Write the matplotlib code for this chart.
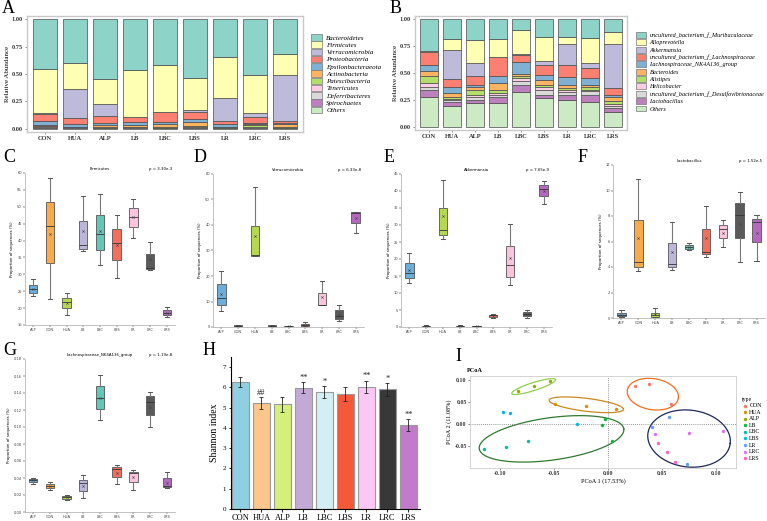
import matplotlib
matplotlib.use('Agg')
import matplotlib.pyplot as plt
import numpy as np

# ---------------- data ----------------
groups = ['CON', 'HUA', 'ALP', 'LB', 'LBC', 'LBS', 'LR', 'LRC', 'LRS']

# Panel A (phylum level, relative abundance)
phyla = ['Bacteroidetes', 'Firmicutes', 'Verrucomicrobia', 'Proteobacteria',
         'Epsilonbacteraeota', 'Actinobacteria', 'Patescibacteria', 'Tenericutes',
         'Deferribacteres', 'Spirochaetes', 'Others']
bacteroidetes = [.455, .40, .545, .465, .415, .54, .345, .51, .32]
firmicutes = [.405, .24, .23, .425, .43, .29, .375, .35, .19]
verrucomicrobia = [.005, .265, .105, .005, .005, .02, .205, .035, .42]
proteobacteria = [.06, .055, .065, .045, .085, .06, .035, .05, .015]
epsilonbacteraeota = [.045, .02, .02, .03, .025, .025, .02, .015, .01]
actinobacteria = [.003, .004, .015, .01, .02, .04, .005, .01, .025]
patescibacteria = [.004, .003, .01, .005, .01, .01, .005, .015, .01]
tenericutes = [.003, .003, .002, .005, .003, .005, .003, .004, .003]
deferribacteres = [.01, .004, .003, .005, .003, .004, .003, .005, .003]
spirochaetes = [.002, .001, .001, .001, .001, .001, .001, .001, .001]
others_phylum = [.008, .005, .004, .004, .003, .005, .003, .005, .003]
phylum_values = [bacteroidetes, firmicutes, verrucomicrobia, proteobacteria,
                 epsilonbacteraeota, actinobacteria, patescibacteria, tenericutes,
                 deferribacteres, spirochaetes, others_phylum]

# Panel B (genus level)
genera = ['uncultured_bacterium_f_Muribaculaceae', 'Alloprevotella', 'Akkermansia',
          'uncultured_bacterium_f_Lachnospiraceae', 'Lachnospiraceae_NK4A136_group',
          'Bacteroides', 'Alistipes', 'Helicobacter',
          'uncultured_bacterium_f_Desulfovibrionaceae', 'Lactobacillus', 'Others']
muribaculaceae = [.30, .181, .191, .181, .104, .162, .168, .175, .116]
alloprevotella = [.003, .107, .22, .17, .22, .23, .062, .236, .117]
akkermansia = [.004, .269, .117, .002, .004, .029, .191, .042, .407]
u_lachnospiraceae = [.123, .077, .082, .175, .072, .094, .116, .097, .062]
nk4a136 = [.052, .049, .024, .067, .105, .048, .075, .062, .023]
bacteroides = [.048, .042, .026, .059, .019, .049, .026, .022, .039]
alistipes = [.06, .013, .04, .029, .023, .022, .019, .02, .022]
helicobacter = [.038, .012, .02, .019, .029, .026, .016, .016, .02]
desulfovibrionaceae = [.032, .023, .03, .018, .036, .049, .029, .036, .022]
lactobacillus = [.065, .033, .03, .06, .064, .026, .048, .061, .039]
others_genus = [.275, .194, .22, .22, .324, .265, .25, .233, .133]
genus_values = [muribaculaceae, alloprevotella, akkermansia, u_lachnospiraceae, nk4a136,
                bacteroides, alistipes, helicobacter, desulfovibrionaceae, lactobacillus,
                others_genus]

# Panels C-G (box plots)
box_groups = ['ALP', 'CON', 'HUA', 'LB', 'LBC', 'LBS', 'LR', 'LRC', 'LRS']
firm_lo = [23.7, 22.6, 18.1, 36.8, 32.9, 28.8, 40.9, 31.2, 17.5]
firm_q1 = [24.4, 33.5, 19.9, 37.6, 37.3, 34.1, 43.9, 31.6, 17.9]
firm_med = [25.6, 44.4, 21.9, 38.6, 41.8, 39.3, 46.9, 31.9, 18.6]
firm_q3 = [26.7, 51.4, 23.1, 45.7, 47.7, 43.4, 49.6, 36.0, 19.3]
firm_hi = [28.5, 58.6, 24.4, 53.3, 53.8, 47.7, 52.4, 39.5, 20.2]
firm_mean = [25.8, 41.8, 21.4, 42.9, 42.9, 38.7, 46.9, 34.4, 18.6]

verr_lo = [6.2, 0.2, 27.7, 0.2, 0.1, 0.3, 8.5, 2.2, 36.7]
verr_q1 = [8.8, 0.3, 28.0, 0.3, 0.2, 0.5, 8.7, 3.3, 40.9]
verr_med = [11.5, 0.5, 28.4, 0.5, 0.3, 0.8, 8.8, 4.3, 44.8]
verr_q3 = [16.7, 0.6, 39.8, 0.7, 0.4, 1.3, 13.5, 6.6, 45.1]
verr_hi = [21.9, 0.8, 54.9, 0.9, 0.5, 1.8, 18.0, 8.8, 45.1]
verr_mean = [13.1, 0.5, 35.8, 0.5, 0.3, 0.9, 11.8, 5.2, 42.9]

akk_lo = [12.8, 0.1, 25.8, 0.1, 0.05, 2.6, 12.3, 2.7, 36.1]
akk_q1 = [14.3, 0.2, 27.1, 0.2, 0.1, 2.9, 14.8, 3.1, 38.5]
akk_med = [15.9, 0.3, 28.5, 0.3, 0.2, 3.4, 18.2, 3.9, 40.7]
akk_q3 = [18.7, 0.4, 35.1, 0.4, 0.3, 3.5, 23.8, 4.4, 41.8]
akk_hi = [21.7, 0.5, 43.1, 0.5, 0.4, 3.7, 30.4, 5.0, 43.0]
akk_mean = [16.7, 0.3, 32.5, 0.3, 0.2, 3.3, 20.2, 3.9, 39.9]

lact_lo = [0.1, 3.65, 0.05, 3.8, 5.3, 4.8, 5.6, 4.4, 4.5]
lact_q1 = [0.13, 4.0, 0.1, 4.0, 5.4, 5.0, 6.3, 6.3, 6.0]
lact_med = [0.26, 4.4, 0.2, 4.2, 5.6, 5.2, 7.0, 8.1, 7.5]
lact_q3 = [0.4, 7.65, 0.4, 5.85, 5.7, 7.0, 7.3, 9.0, 7.8]
lact_hi = [0.6, 10.9, 0.8, 7.5, 5.9, 8.8, 7.65, 9.9, 8.1]
lact_mean = [0.26, 6.3, 0.3, 5.2, 5.6, 6.3, 6.7, 7.4, 6.7]

nk_lo = [0.0325, 0.0259, 0.0145, 0.0169, 0.1086, 0.0329, 0.0255, 0.100, 0.0282]
nk_q1 = [0.0349, 0.0278, 0.0157, 0.0247, 0.1216, 0.0412, 0.0353, 0.1145, 0.0294]
nk_med = [0.0376, 0.0306, 0.0173, 0.0341, 0.1345, 0.0502, 0.0463, 0.1298, 0.0306]
nk_q3 = [0.0390, 0.0330, 0.0188, 0.0380, 0.1478, 0.0525, 0.0475, 0.1360, 0.0400]
nk_hi = [0.0396, 0.0353, 0.0200, 0.0431, 0.1616, 0.0557, 0.0490, 0.1416, 0.0475]
nk_mean = [0.0372, 0.0306, 0.0173, 0.0310, 0.1345, 0.0459, 0.0412, 0.1235, 0.0345]

# Panel H (Shannon index)
shannon = [6.27, 5.21, 5.16, 5.98, 5.76, 5.67, 6.03, 5.90, 4.13]
shannon_err = [0.25, 0.30, 0.35, 0.28, 0.30, 0.35, 0.30, 0.30, 0.30]
shannon_sig = ['', '##', '', '**', '*', '', '**', '*', '**']

# Panel I (PCoA)
pcoa_type = ['CON'] * 3 + ['HUA'] * 3 + ['ALP'] * 3 + ['LB'] * 3 + ['LBC'] * 3 + \
            ['LBS'] * 3 + ['LR'] * 3 + ['LRC'] * 3 + ['LRS'] * 3
pcoa_x = [0.0249, 0.0378, 0.0588, -0.0489, -0.0206, 0.0080, -0.0834, -0.0686, -0.0538,
          -0.0025, -0.0052, 0.0037, -0.1148, -0.0942, -0.0742, -0.0972, -0.0905, -0.0289,
          0.0566, 0.0409, 0.0738, 0.0754, 0.1065, 0.0437, 0.0465, 0.0545, 0.0628]
pcoa_y = [0.0872, 0.0910, 0.0459, 0.0459, 0.0398, 0.0338, 0.0744, 0.0865, 0.0977,
          0.0120, -0.0030, -0.0383, -0.0579, -0.0519, -0.0383, 0.0278, 0.0248, 0.0000,
          0.0158, -0.0060, -0.0902, -0.0195, -0.0158, -0.0233, -0.0429, -0.0647, -0.0857]
# confidence ellipses (center and two semi-axis vectors, data units)
ell_cx = [-0.0689, -0.0200, 0.0418, -0.0523, 0.0754]
ell_cy = [0.0850, 0.0436, 0.0677, -0.0338, -0.0331]
ell_ax = [0.0203, 0.0345, 0.0237, 0.0671, 0.0382]
ell_ay = [0.0158, -0.0098, -0.0090, 0.0226, -0.0113]
ell_bx = [0.0011, -0.0007, -0.0022, 0.0027, -0.0032]
ell_by = [-0.0086, 0.0150, -0.0349, -0.0477, -0.0641]

# ---------------- styles ----------------
set3 = ['#8DD3C7', '#FFFFB3', '#BEBADA', '#FB8072', '#80B1D3', '#FDB462',
        '#B3DE69', '#FCCDE5', '#D9D9D9', '#BC80BD', '#CCEBC5']
box_colors = ['#6AAFDB', '#FBAA4A', '#B4D84E', '#BDB6DC', '#63C7B8', '#F46E5C',
              '#FAC4DD', '#5A5A5A', '#B568BE']
bar_colors = ['#8ECFE4', '#FDC68D', '#D5F07A', '#C3A9D6', '#D2F0F4', '#F4593A',
              '#FBC8F6', '#383838', '#C27BC8']
hue_colors = {'CON': '#F8766D', 'HUA': '#D39200', 'ALP': '#93AA00', 'LB': '#00BA38',
              'LBC': '#00C19F', 'LBS': '#00B9E3', 'LR': '#619CFF', 'LRC': '#DB72FB',
              'LRS': '#FF61C3'}
ell_colors = ['#8ED04A', '#C98A22', '#F26E22', '#2F7A30', '#1E2757']

SERIF = 'Liberation Serif'
W, H = 767, 521
fig = plt.figure(figsize=(W / 100, H / 100), dpi=100)


def add_ax(l, t, r, b):
    return fig.add_axes([l / W, 1 - b / H, (r - l) / W, (b - t) / H])


def plabel(x, y, s):
    fig.text(x / W, 1 - y / H, s, fontsize=13, family=SERIF, va='top', ha='left')


# ---------- stacked bars A / B ----------
def stacked(ax, names, values, legend_x, legend_y0, legfs, legsp):
    x = np.arange(len(groups))
    bottom = np.zeros(len(groups))
    for name, vals, col in reversed(list(zip(names, values, set3))):
        v = np.array(vals)
        ax.bar(x, v, bottom=bottom, width=0.8, color=col, edgecolor='#4a4a4a', linewidth=0.5)
        bottom += v
    ax.set_xlim(-0.6, 8.6)
    ax.set_ylim(-0.03, 1.03)
    ax.set_xticks(x)
    ax.set_xticklabels(groups, family=SERIF, fontsize=4.6, fontweight='bold')
    ax.set_yticks([0, 0.25, 0.5, 0.75, 1.0])
    ax.set_yticklabels(['0.00', '0.25', '0.50', '0.75', '1.00'], family=SERIF, fontsize=4.6,
                       fontweight='bold')
    ax.set_ylabel('Relative Abundance', family=SERIF, fontsize=5, labelpad=1.5)
    ax.tick_params(length=1.5, width=0.4, pad=1.5, colors='#333333')
    for s in ax.spines.values():
        s.set_color('#c8c8c8')
        s.set_linewidth(1.0)
    handles = [plt.Rectangle((0, 0), 1, 1, facecolor=c, edgecolor='#777777', linewidth=0.5)
               for c in set3]
    fig.legend(handles, names, loc='upper left',
               bbox_to_anchor=(legend_x / W, 1 - legend_y0 / H), frameon=False,
               prop={'family': SERIF, 'style': 'italic', 'size': legfs},
               handlelength=1.6, handleheight=1.1, labelspacing=legsp,
               handletextpad=0.6, borderpad=0, borderaxespad=0)


axA = add_ax(27, 16, 303, 132)
stacked(axA, phyla, phylum_values, 311, 34, 5.0, 0.08)
plabel(2, 0, 'A')

axB = add_ax(415, 16, 627, 130)
stacked(axB, genera, genus_values, 636, 32, 4.4, 0.22)
plabel(390, 0, 'B')


# ---------- box plots C-G ----------
def boxpanel(ax, title, pval, lo, q1, med, q3, hi, mean, yticks, ylim, fmt):
    stats = []
    for i in range(len(box_groups)):
        stats.append(dict(whislo=lo[i], q1=q1[i], med=med[i], q3=q3[i], whishi=hi[i],
                          mean=mean[i], fliers=[], label=box_groups[i]))
    bp = ax.bxp(stats, positions=np.arange(len(box_groups)), widths=0.5, patch_artist=True,
                showmeans=True, showfliers=False,
                boxprops=dict(edgecolor='#555555', linewidth=0.6),
                medianprops=dict(color='#333333', linewidth=0.6),
                whiskerprops=dict(color='#777777', linewidth=0.8),
                capprops=dict(color='#555555', linewidth=0.7),
                meanprops=dict(marker='x', markersize=1.6, markeredgecolor='#444444',
                               markeredgewidth=0.4))
    for patch, c in zip(bp['boxes'], box_colors):
        patch.set_facecolor(c)
    ax.set_xlim(-0.5, 8.5)
    ax.set_ylim(*ylim)
    ax.set_yticks(yticks)
    ax.set_yticklabels([fmt.format(v) for v in yticks], fontsize=2.6, color='#444444')
    ax.set_xticks(np.arange(len(box_groups)))
    ax.set_xticklabels(box_groups, fontsize=2.6, color='#444444')
    ax.tick_params(length=1.2, width=0.3, pad=1)
    for s in ['top', 'right']:
        ax.spines[s].set_visible(False)
    for s in ['left', 'bottom']:
        ax.spines[s].set_color('#aaaaaa')
        ax.spines[s].set_linewidth(0.5)
    ax.set_ylabel('Proportion of sequences (%)', fontsize=2.8, labelpad=2)
    ax.text(0.5, 1.01, title, transform=ax.transAxes, ha='center', va='bottom', fontsize=2.8)
    ax.text(0.98, 1.01, pval, transform=ax.transAxes, ha='right', va='bottom', fontsize=2.8)


axC = add_ax(25, 173, 175, 325)
boxpanel(axC, 'Firmicutes', 'p = 3.30e-3', firm_lo, firm_q1, firm_med, firm_q3, firm_hi,
         firm_mean, np.arange(15, 61, 5), (15, 60), '{:.0f}')
plabel(3, 149, 'C')

axD = add_ax(213, 174, 364, 327)
boxpanel(axD, 'Verrucomicrobia', 'p = 6.33e-8', verr_lo, verr_q1, verr_med, verr_q3, verr_hi,
         verr_mean, np.arange(0, 61, 10), (0, 60), '{:.0f}')
plabel(194, 149, 'D')

axE = add_ax(401, 174, 552, 327)
boxpanel(axE, 'Akkermansia', 'p = 7.65e-9', akk_lo, akk_q1, akk_med, akk_q3, akk_hi,
         akk_mean, np.arange(0, 46, 5), (0, 45), '{:.0f}')
plabel(384, 149, 'E')

axF = add_ax(613, 165, 765, 318)
boxpanel(axF, 'Lactobacillus', 'p = 1.52e-5', lact_lo, lact_q1, lact_med, lact_q3, lact_hi,
         lact_mean, np.arange(0, 13, 2), (0, 12), '{:.0f}')
plabel(578, 149, 'F')

axG = add_ax(25, 359, 175, 512)
boxpanel(axG, 'Lachnospiraceae_NK4A136_group', 'p = 1.19e-8', nk_lo, nk_q1, nk_med, nk_q3,
         nk_hi, nk_mean, np.round(np.arange(0, 0.181, 0.02), 2), (0, 0.18), '{:.2f}')
plabel(3, 342, 'G')

# ---------- H: Shannon bars ----------
axH = add_ax(231, 357, 420, 509)
xh = np.arange(len(groups))
axH.bar(xh, shannon, width=0.83, color=bar_colors, edgecolor='#9a9a9a', linewidth=0.8)
axH.errorbar(xh, shannon, yerr=shannon_err, fmt='none', ecolor='#222222', elinewidth=0.6,
             capsize=1.5, capthick=0.6)
for xi, v, e, s in zip(xh, shannon, shannon_err, shannon_sig):
    if s:
        axH.text(xi, v + e + 0.03, s, ha='center', va='bottom', fontsize=6, family=SERIF,
                 color='#222222')
axH.set_xlim(-0.45, 8.55)
axH.set_ylim(0, 7.5)
axH.set_yticks(range(0, 8))
axH.set_yticklabels([str(v) for v in range(0, 8)], family=SERIF, fontsize=5)
axH.set_xticks(xh)
axH.set_xticklabels(groups, family=SERIF, fontsize=6)
axH.set_ylabel('Shannon index', family=SERIF, fontsize=7, labelpad=3)
axH.tick_params(length=1.8, width=0.6, pad=1.5)
for s in ['top', 'right']:
    axH.spines[s].set_visible(False)
for s in ['left', 'bottom']:
    axH.spines[s].set_linewidth(0.8)
plabel(203, 342, 'H')

# ---------- I: PCoA ----------
axI = add_ax(470, 376, 736, 468)
t = np.linspace(0, 2 * np.pi, 200)
for cx, cy, a1, a2, b1, b2, c in zip(ell_cx, ell_cy, ell_ax, ell_ay, ell_bx, ell_by, ell_colors):
    axI.plot(cx + a1 * np.cos(t) + b1 * np.sin(t), cy + a2 * np.cos(t) + b2 * np.sin(t),
             color=c, linewidth=0.9)
axI.axhline(0, color='#777777', linestyle=(0, (1, 1.5)), linewidth=0.6)
axI.axvline(0, color='#777777', linestyle=(0, (1, 1.5)), linewidth=0.6)
px = np.array(pcoa_x)
py = np.array(pcoa_y)
ptype = np.array(pcoa_type)
for g in groups:
    m = ptype == g
    axI.scatter(px[m], py[m], s=6, color=hue_colors[g], label=g, linewidths=0, zorder=3)
axI.set_xlim(-0.128, 0.119)
axI.set_ylim(-0.10, 0.109)
axI.set_xticks([-0.10, -0.05, 0.0, 0.05, 0.10])
axI.set_xticklabels(['-0.10', '-0.05', '0.00', '0.05', '0.10'], family=SERIF, fontsize=4.2,
                    fontweight='bold')
axI.set_yticks([-0.05, 0.0, 0.05, 0.10])
axI.set_yticklabels(['-0.05', '0.00', '0.05', '0.10'], family=SERIF, fontsize=4.2,
                    fontweight='bold')
axI.tick_params(length=1.2, width=0.4, pad=1.2, colors='#333333')
for s in axI.spines.values():
    s.set_color('#cccccc')
    s.set_linewidth(0.6)
axI.set_xlabel('PCoA 1 (17.53%)', family=SERIF, fontsize=4.5, labelpad=1.5)
axI.set_ylabel('PCoA 2 (11.08%)', family=SERIF, fontsize=4.5, labelpad=1.5)
axI.set_title('PCoA', family=SERIF, fontsize=4.5, fontweight='bold', loc='left', pad=3,
              x=-0.01)
axI.legend(loc='upper left', bbox_to_anchor=(1.015, 0.8), frameon=False, title='type',
           prop={'family': SERIF, 'size': 4.2}, title_fontproperties={'family': SERIF, 'size': 4.2},
           handletextpad=0.2, labelspacing=0.25, markerscale=1.0, borderaxespad=0,
           alignment='left', handlelength=1.0)
plabel(455, 348, 'I')

fig.savefig('out.png', dpi=100, facecolor='white')
